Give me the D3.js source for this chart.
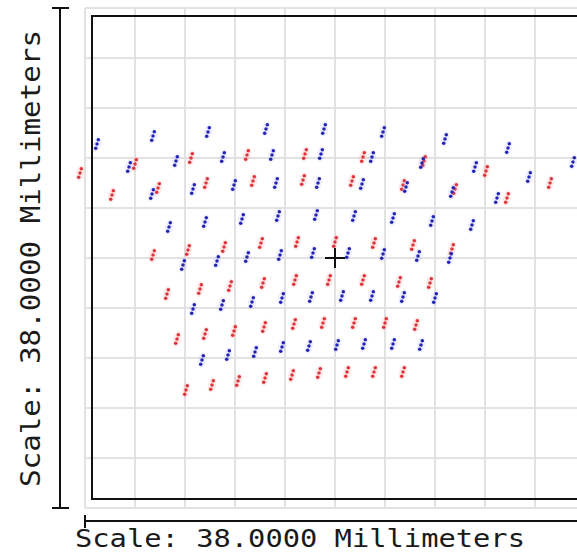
<!DOCTYPE html>
<html>
<head>
<meta charset="utf-8">
<script src="https://cdn.jsdelivr.net/npm/d3@7"></script>
<style>
  html, body { margin: 0; padding: 0; background: #fff; }
  svg { display: block; }
</style>
</head>
<body>
<svg id="chart" width="577" height="553"></svg>
<script>
// Field coordinates in units (0–100 spans the 38 mm scale bar)
const blueX = [2.4,13.6,24.6,36.2,47.8,59.6,72.0,84.6,97.6,
  8.8,18.2,27.6,37.4,47.2,57.4,67.4,78.0,88.8,
  13.4,21.6,29.8,38.2,46.6,55.4,64.2,73.4,82.4,
  16.8,24.0,31.4,38.6,46.2,53.8,61.6,69.4,77.4,
  19.6,26.4,32.4,39.0,45.6,52.6,59.6,66.6,73.0,
  21.6,27.4,33.4,39.4,45.2,51.4,57.4,63.6,70.0,
  23.4,28.6,34.0,39.4,44.8,50.4,55.8,61.6,67.2];
const blueY = [27.2,25.6,24.8,24.2,24.2,24.8,26.2,28.0,30.8,
  31.8,30.6,29.8,29.4,29.2,29.8,31.0,31.8,33.8,
  37.2,36.2,35.4,35.0,35.0,35.2,35.8,36.8,38.0,
  43.8,42.8,42.2,41.6,41.4,41.6,42.0,42.6,43.4,
  51.4,50.6,49.8,49.4,49.0,49.0,49.2,49.6,50.0,
  60.2,59.4,58.8,58.0,57.8,57.6,57.6,57.8,58.0,
  70.4,69.4,68.8,67.8,67.6,67.4,67.2,67.2,67.4];
const redX = [-1.0,5.4,
  10.0,21.2,32.4,44.0,55.6,67.8,80.2,93.0,
  14.6,24.2,33.6,43.6,53.4,63.6,74.0,84.4,
  13.6,20.6,27.8,35.2,42.4,50.0,57.8,65.6,73.4,
  16.4,23.0,29.0,35.6,42.0,48.8,55.6,62.8,69.0,
  18.4,24.0,29.8,35.8,41.8,47.6,53.8,60.0,66.2,
  20.2,25.4,30.6,36.0,41.4,46.8,52.4,57.8,63.6];
const redY = [33.0,37.4,
  31.2,30.0,29.4,29.2,29.8,30.6,32.6,35.0,
  36.0,35.0,34.6,34.4,34.6,35.4,36.2,38.0,
  49.4,48.4,47.8,47.0,46.8,46.8,47.0,47.4,48.2,
  57.2,56.2,55.6,55.0,54.4,54.4,54.4,54.8,55.0,
  66.2,65.2,64.6,63.8,63.2,63.0,63.0,63.0,63.4,
  76.4,75.4,74.6,74.0,73.4,73.0,72.8,72.8,72.8];
const centerMark = [50, 50];
const gridTicks = d3.range(0, 101, 10);
const scaleLabel = "Scale: 38.0000 Millimeters";

const svg = d3.select("#chart");
const x = d3.scaleLinear().domain([0, 100]).range([85, 585]);
const y = d3.scaleLinear().domain([0, 100]).range([8, 508]);

// Grid
const grid = svg.append("g").attr("stroke", "#e2e2e2").attr("stroke-width", 2);
grid.selectAll("line.v").data(gridTicks).join("line").attr("class", "v")
  .attr("x1", d => x(d)).attr("x2", d => x(d)).attr("y1", y(0)).attr("y2", y(100));
grid.selectAll("line.h").data(gridTicks).join("line").attr("class", "h")
  .attr("y1", d => y(d)).attr("y2", d => y(d)).attr("x1", x(0)).attr("x2", x(100));

// Black frame
svg.append("rect").attr("x", x(0) + 7).attr("y", y(0) + 8)
  .attr("width", 495).attr("height", 483)
  .attr("fill", "none").attr("stroke", "#111").attr("stroke-width", 2);

// Marks
function drawMarks(xs, ys, color, halo) {
  const g = svg.append("g");
  const pts = xs.map((v, i) => [v, ys[i]]);
  const m = g.selectAll("g").data(pts).join("g")
    .attr("transform", d => `translate(${x(d[0])},${y(d[1])})`);
  m.append("ellipse").attr("rx", 4).attr("ry", 8).attr("fill", halo)
    .attr("transform", "rotate(12)");
  [[1.3, -4.2], [0, 0], [-1.3, 4.2]].forEach(o => {
    m.append("circle").attr("cx", o[0]).attr("cy", o[1]).attr("r", 1.75).attr("fill", color);
  });
}
drawMarks(redX, redY, "#e0343c", "rgba(255,150,150,0.2)");
drawMarks(blueX, blueY, "#2323b4", "rgba(150,150,255,0.15)");

// Center crosshair
const cx = x(centerMark[0]), cy = y(centerMark[1]);
svg.append("path").attr("d", `M${cx-10},${cy}H${cx+10}M${cx},${cy-10}V${cy+10}`)
  .attr("stroke", "#111").attr("stroke-width", 2);

// Scale bars
const bars = svg.append("g").attr("stroke", "#111").attr("stroke-width", 2);
bars.append("line").attr("x1", 60).attr("x2", 60).attr("y1", y(0)).attr("y2", y(100));
bars.append("line").attr("x1", 52).attr("x2", 69).attr("y1", y(0)).attr("y2", y(0));
bars.append("line").attr("x1", 52).attr("x2", 69).attr("y1", y(100)).attr("y2", y(100));
bars.append("line").attr("x1", x(0)).attr("x2", x(100)).attr("y1", 521).attr("y2", 521);
bars.append("line").attr("x1", x(0)).attr("x2", x(0)).attr("y1", 515).attr("y2", 528);

// Labels
svg.append("text").attr("x", 75).attr("y", 547)
  .attr("font-family", "DejaVu Sans Mono").attr("font-size", 25).attr("fill", "#1a1a1a")
  .attr("textLength", 450).attr("lengthAdjust", "spacingAndGlyphs")
  .text(scaleLabel);
svg.append("text").attr("transform", "translate(40,487) rotate(-90)")
  .attr("font-family", "DejaVu Sans Mono").attr("font-size", 26).attr("fill", "#1a1a1a")
  .attr("textLength", 457).attr("lengthAdjust", "spacingAndGlyphs")
  .text(scaleLabel);
</script>
</body>
</html>
